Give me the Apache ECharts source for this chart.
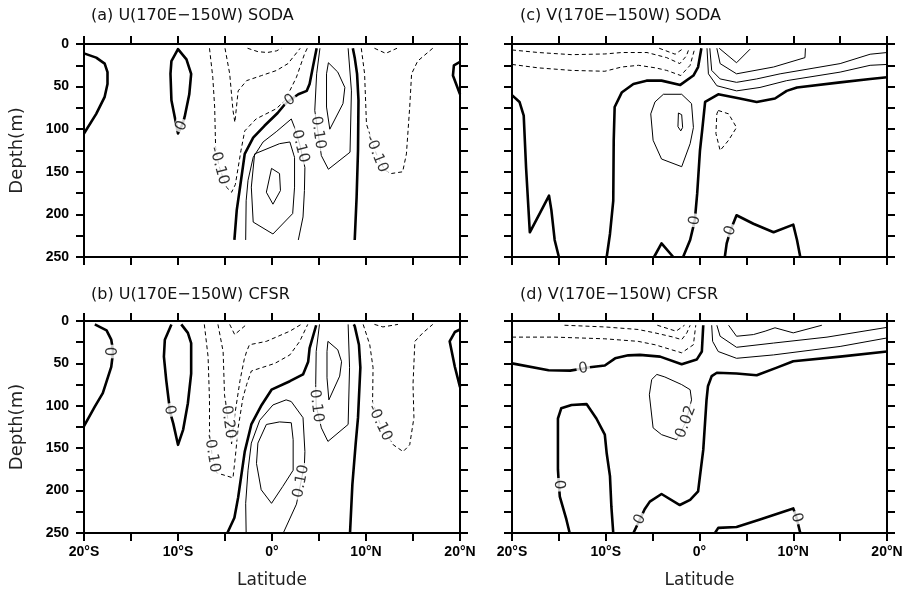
<!DOCTYPE html>
<html>
<head>
<meta charset="utf-8">
<script src="https://cdn.jsdelivr.net/npm/echarts@6/dist/echarts.min.js"></script>
<style>
  html, body { margin: 0; padding: 0; background: #fff; }
  #chart { width: 906px; height: 594px; }
</style>
</head>
<body>
<div id="chart"></div>
<script>
// axis ticks / labels
const latTicks = [-20, -10, 0, 10, 20]
const latLabels = ['20°S', '10°S', '0°', '10°N', '20°N']
const depthLabels = [0, 50, 100, 150, 200, 250]
const titles = ['(a) U(170E\u2212150W) SODA', '(b) U(170E\u2212150W) CFSR',
  '(c) V(170E\u2212150W) SODA', '(d) V(170E\u2212150W) CFSR']

// contour polylines, points are [latitude, depth]
// (a) U SODA
const aZero1 = [[-20, 11], [-18.7, 16], [-17.8, 23], [-17.5, 33], [-17.5, 47], [-17.8, 62], [-18.7, 82], [-20, 105]]
const aZero2 = [[-9.3, 86], [-8.8, 59], [-8.6, 35], [-9.1, 18], [-10, 6], [-10.7, 20], [-10.8, 35], [-10.7, 66], [-10, 105], [-9.6, 96], [-9.3, 86]]
const aZero3 = [[20, 21], [19.35, 25], [19.25, 37], [20, 59]]
const aZero4 = [[-4.0, 230], [-3.75, 195], [-3.45, 172], [-2.9, 129], [-2.0, 110], [-0.8, 96], [0.6, 81], [1.35, 71], [1.9, 66], [2.8, 59], [3.7, 55], [4.0, 47], [4.35, 27], [4.75, 5]]
const aZero5 = [[8.8, 230], [9.0, 180], [9.15, 125], [9.2, 66], [9.05, 35], [8.8, 16], [8.6, 5]]
const aPos1 = [[5.1, 5], [4.75, 35], [4.55, 78], [4.9, 104], [5.25, 131], [6.0, 147], [8.3, 127], [8.45, 55], [8.1, 5]]
const aPos2 = [[6.0, 22], [7.0, 33], [7.75, 51], [7.55, 70], [6.15, 100], [5.8, 74], [5.8, 35], [6.0, 22]]
const aPos3 = [[-2.8, 230], [-2.75, 184], [-2.55, 160], [-2.0, 133], [-0.95, 115], [0.45, 103], [2.05, 88], [2.4, 98], [3.0, 120], [3.5, 145], [3.45, 172], [3.3, 203], [2.8, 230]]
const aPos4 = [[-1.85, 129], [0.8, 117], [1.9, 115], [2.4, 133], [2.4, 168], [2.2, 199], [0.1, 223], [-2.0, 209], [-2.2, 168], [-1.85, 129]]
const aPos5 = [[-0.05, 146], [0.8, 152], [0.9, 172], [0.1, 188], [-0.6, 174], [-0.05, 146]]
const aNeg1 = [[-6.65, 5], [-6.3, 39], [-6.1, 74], [-6.0, 121], [-5.65, 143], [-4.85, 168], [-4.3, 174], [-3.9, 165], [-3.3, 125], [-2.9, 102], [-1.7, 88], [0.45, 76], [1.4, 66], [2.6, 39], [3.45, 12], [3.75, 5]]
const aNeg2 = [[-5.0, 5], [-4.5, 35], [-4.15, 78], [-3.95, 92], [-3.6, 55], [-2.7, 43], [-1.1, 37], [0.5, 31], [1.7, 23], [3.0, 5]]
const aNeg3 = [[-2.6, 5], [-1.5, 9], [-0.5, 10], [0.5, 8], [1.0, 5]]
const aNeg4 = [[9.5, 5], [9.85, 35], [10.05, 94], [11.1, 129], [12.0, 148], [12.7, 152], [13.9, 150], [14.3, 129], [14.65, 74], [14.85, 35], [15.5, 20], [17.1, 5]]
const aNeg5 = [[10.9, 5], [12.1, 11], [13.3, 5]]
const aLabels = [[-9.6, 96, '0'], [1.9, 66, '0'], [3.0, 120, '0.10'], [4.9, 104, '0.10'], [-5.65, 143, '-0.10'], [11.1, 129, '-0.10']]

// (b) U CFSR
const bZero1 = [[-18.85, 4], [-17.6, 11], [-17.1, 22], [-16.9, 36], [-17.1, 54], [-18.0, 85], [-18.85, 101], [-20, 124]]
const bZero2 = [[-10.7, 4], [-11.4, 22], [-11.5, 42], [-11.25, 70], [-10.95, 97], [-10.9, 105], [-10.5, 121], [-10, 146], [-9.45, 128], [-8.95, 97], [-8.6, 62], [-8.6, 26], [-8.95, 14], [-9.65, 4]]
const bZero3 = [[20, 10], [19.45, 13], [18.9, 24], [19.45, 54], [20, 78]]
const bZero4 = [[-4.75, 250], [-4.0, 232], [-3.6, 208], [-2.9, 154], [-2.2, 122], [-1.1, 99], [-0.05, 81], [1.9, 71], [3.3, 63], [3.85, 48], [4.0, 32], [4.7, 5]]
const bZero5 = [[8.3, 250], [8.55, 193], [8.9, 145], [9.15, 114], [9.4, 55], [9.25, 28], [8.8, 6], [8.7, 4]]
const bPos1 = [[5.05, 4], [4.7, 36], [4.65, 75], [4.7, 100], [5.25, 126], [5.95, 142], [8.1, 122], [8.25, 55], [8.1, 4]]
const bPos2 = [[5.95, 24], [7.0, 34], [7.4, 48], [7.2, 65], [6.05, 93], [5.85, 67], [5.85, 36], [5.95, 24]]
const bPos3 = [[-2.75, 250], [-2.8, 215], [-2.55, 176], [-2.2, 144], [-1.3, 117], [0.1, 99], [1.5, 93], [2.05, 95], [3.3, 114], [3.5, 154], [3.45, 169], [3.1, 189], [2.6, 216], [1.2, 250]]
const bPos4 = [[-0.6, 122], [0.8, 119], [2.05, 120], [2.25, 140], [2.25, 176], [1.15, 195], [-0.05, 215], [-1.15, 199], [-1.65, 168], [-1.5, 144], [-0.6, 122]]
const bNeg1 = [[-7.2, 4], [-6.8, 42], [-6.65, 93], [-6.65, 128], [-6.4, 156], [-5.9, 179], [-4.15, 185], [-3.9, 160], [-3.6, 126], [-3.1, 91], [-2.7, 75], [-2.2, 59], [0.3, 50], [1.9, 40], [2.95, 24], [3.8, 4]]
const bNeg2 = [[-5.75, 4], [-5.2, 36], [-5.05, 87], [-4.7, 116], [-4.3, 145], [-3.95, 110], [-3.4, 70], [-2.95, 45], [-2.7, 36], [-2.4, 28], [-0.6, 24], [1.9, 12], [3.1, 4]]
const bNeg3 = [[-4.5, 4], [-3.97, 16], [-2.7, 4]]
const bNeg4 = [[9.7, 4], [10.4, 28], [10.75, 55], [10.7, 95], [11.45, 120], [12.9, 146], [13.95, 154], [14.65, 146], [15.1, 114], [15.0, 75], [15.2, 24], [16.05, 14], [17.1, 4]]
const bNeg5 = [[10.9, 4], [11.8, 7], [13.4, 4]]
const bLabels = [[-16.9, 36, '0'], [-10.9, 105, '0'], [-6.4, 156, '-0.10'], [-4.7, 116, '-0.20'], [4.7, 100, '0.10'], [3.1, 189, '0.10'], [11.45, 120, '-0.10']]

// (c) V SODA
const cZero1 = [[-20, 60], [-19.2, 68], [-18.75, 84], [-18.5, 145], [-18.1, 221], [-17.05, 199], [-16.05, 178], [-15.8, 195], [-15.45, 230], [-15.0, 250]]
const cZero2 = [[-9.9, 250], [-9.55, 223], [-9.2, 184], [-9.15, 113], [-9.05, 74], [-8.3, 57], [-7.05, 47], [-5.65, 43], [-4.05, 43], [-2.05, 48], [-0.65, 37], [-0.15, 27], [0.2, 5]]
const cZero3 = [[-1.75, 250], [-1.0, 230], [-0.5, 207], [-0.25, 176], [0.05, 125], [0.3, 100], [0.6, 68], [2.0, 59], [4.3, 64], [6.1, 68], [8.05, 64], [9.3, 55], [10.4, 51], [15.0, 45], [18.2, 41], [20, 39]]
const cZero4 = [[2.7, 250], [2.9, 234], [3.3, 219], [3.95, 201], [5.75, 211], [7.9, 221], [10.0, 212], [10.4, 230], [10.75, 250]]
const cZero5 = [[-4.85, 250], [-4.05, 234], [-2.8, 250]]
const cPos1 = [[-3.85, 59], [-1.9, 59], [-0.85, 70], [-0.65, 98], [-1.0, 117], [-1.9, 144], [-4.05, 135], [-4.95, 113], [-5.2, 82], [-4.75, 68], [-3.85, 59]]
const cPos2 = [[-2.25, 81], [-1.9, 83], [-1.8, 98], [-2.0, 102], [-2.3, 97], [-2.25, 81]]
const cPos3 = [[0.8, 5], [0.95, 35], [1.85, 49], [3.95, 55], [6.45, 51], [9.3, 43], [15.0, 33], [18.2, 25], [20, 24]]
const cPos4 = [[1.1, 5], [1.3, 31], [2.2, 41], [3.95, 45], [6.1, 41], [8.6, 35], [15.0, 23], [18.2, 12], [20, 10]]
const cPos5 = [[1.85, 5], [2.2, 23], [3.95, 35], [7.9, 27], [11.25, 16], [11.3, 5]]
const cPos6 = [[2.1, 5], [3.95, 22], [5.4, 6]]
const cNeg1 = [[-20, 7], [-17.2, 10], [-13.65, 12.5], [-10.1, 11.7], [-8.3, 10], [-5.6, 10], [-3.5, 16], [-2.1, 23], [-1.4, 14], [-1.1, 5]]
const cNeg2 = [[-20, 24], [-17.2, 28], [-13.65, 31], [-10.1, 32], [-8.3, 27], [-6.5, 25], [-4.7, 28], [-3.5, 31], [-2.0, 37], [-1.0, 25], [-0.5, 5]]
const cNeg3 = [[-4.3, 5], [-2.6, 12], [-1.7, 5]]
const cNeg4 = [[2.0, 78], [3.1, 82], [3.95, 98], [3.1, 113], [2.2, 125], [1.75, 105], [1.85, 82], [2.0, 78]]
const cLabels = [[-0.5, 207, '0'], [3.3, 219, '0']]

// (d) V CFSR
const dZero1 = [[-20, 50], [-16.1, 58], [-13.8, 58.5], [-12.4, 56], [-11.7, 54.5], [-10.1, 52.5], [-9.0, 44], [-7.6, 40.5], [-6.35, 40], [-4.2, 42], [-1.9, 51], [-0.3, 45.5], [0.25, 36], [0.4, 5]]
const dZero2 = [[-7.05, 250], [-6.35, 234], [-5.85, 222], [-5.3, 213], [-4.05, 204], [-2.1, 217], [-1.0, 211], [-0.15, 201], [0.05, 183], [0.4, 152], [0.75, 93], [0.9, 77], [1.3, 65], [1.85, 61], [3.95, 62], [6.1, 64], [8.25, 55], [10.0, 47.5], [15.0, 42], [20, 36]]
const dZero3 = [[-13.85, 250], [-14.2, 234], [-14.9, 207], [-15.0, 193], [-15.1, 175], [-15.1, 115], [-14.75, 103], [-13.65, 99], [-12.05, 98], [-11.0, 115], [-10.1, 134], [-9.9, 156], [-9.55, 183], [-9.4, 219], [-9.2, 250]]
const dZero4 = [[1.65, 250], [2.0, 244], [3.95, 243], [6.45, 234], [10.0, 221], [10.35, 232], [10.75, 250]]
const dPos1 = [[-0.85, 93], [-1.0, 81], [-1.9, 75], [-3.7, 66], [-4.55, 63], [-5.1, 69], [-5.35, 87], [-4.95, 126], [-4.05, 134], [-2.45, 140], [-1.45, 119], [-0.85, 93]]
const dPos2 = [[1.3, 5], [1.4, 24], [2.0, 36], [3.95, 44], [7.9, 40], [15.0, 30], [20, 20]]
const dPos3 = [[1.85, 5], [2.2, 18], [3.95, 31], [7.9, 26], [13.6, 19], [20, 7.5]]
const dPos4 = [[3.1, 5], [3.95, 18], [5.75, 16], [7.0, 12], [8.05, 8], [10.0, 14], [13.05, 5]]
const dNeg1 = [[-14.4, 5], [-10.1, 7], [-6.55, 10], [-4.75, 14], [-2.8, 19], [-1.9, 22], [-1.35, 14], [-1.0, 5]]
const dNeg2 = [[-20, 19], [-15.45, 19], [-10.1, 21], [-6.55, 24], [-4.75, 28], [-1.9, 37.5], [-0.65, 28], [-0.4, 5]]
const dNeg3 = [[-4.5, 5], [-2.5, 12], [-1.6, 5]]
const dLabels = [[-12.4, 56, '0'], [-15.0, 193, '0'], [-6.35, 234, '0'], [10.35, 232, '0'], [-1.45, 119, '0.02']]

const panels = [
  {zero: [aZero1, aZero2, aZero3, aZero4, aZero5], pos: [aPos1, aPos2, aPos3, aPos4, aPos5], neg: [aNeg1, aNeg2, aNeg3, aNeg4, aNeg5], labels: aLabels},
  {zero: [bZero1, bZero2, bZero3, bZero4, bZero5], pos: [bPos1, bPos2, bPos3, bPos4], neg: [bNeg1, bNeg2, bNeg3, bNeg4, bNeg5], labels: bLabels},
  {zero: [cZero1, cZero2, cZero3, cZero4, cZero5], pos: [cPos1, cPos2, cPos3, cPos4, cPos5, cPos6], neg: [cNeg1, cNeg2, cNeg3, cNeg4], labels: cLabels},
  {zero: [dZero1, dZero2, dZero3, dZero4], pos: [dPos1, dPos2, dPos3, dPos4], neg: [dNeg1, dNeg2, dNeg3], labels: dLabels}
]

// layout: a, b on the left, c, d on the right
const boxes = [[84, 44, 376, 213], [84, 321, 376, 212], [512, 44, 375, 213], [512, 321, 375, 212]]
const titlePos = [[91, 8], [91, 287], [520, 8], [520, 287]]

const lineStyles = {
  zero: {color: '#000', width: 2.6, type: 'solid', join: 'round'},
  pos: {color: '#000', width: 1, type: 'solid'},
  neg: {color: '#000', width: 1, type: [4, 3]}
}
const tickFont = {color: '#000', fontWeight: 'bold', fontSize: 14, fontFamily: 'Liberation Sans'}
const axisLine = {onZero: false, lineStyle: {color: '#000', width: 2}}
const axisTick = {length: 8, lineStyle: {color: '#000', width: 2}}

let xAxes = []
let yAxes = []
let series = []
boxes.forEach((b, i) => {
  let bottomRow = i === 1 || i === 3
  let leftCol = i < 2
  let xBase = {gridIndex: i, type: 'value', min: -20, max: 20, interval: 5, splitLine: {show: false}, axisLine: axisLine, axisTick: axisTick}
  xAxes.push(Object.assign({}, xBase, {
    position: 'bottom',
    axisLabel: Object.assign({show: bottomRow, margin: 12, formatter: v => { let k = latTicks.indexOf(v); return k < 0 ? '' : latLabels[k] }}, tickFont),
    name: bottomRow ? 'Latitude' : '',
    nameLocation: 'middle',
    nameGap: 39,
    nameTextStyle: {color: '#222', fontSize: 17, fontFamily: 'DejaVu Sans'}
  }))
  xAxes.push(Object.assign({}, xBase, {position: 'top', axisLabel: {show: false}}))
  let yBase = {gridIndex: i, type: 'value', inverse: true, min: 0, max: 250, interval: 25, splitLine: {show: false}, axisLine: axisLine, axisTick: axisTick}
  yAxes.push(Object.assign({}, yBase, {
    position: 'left',
    axisLabel: Object.assign({show: leftCol, margin: 15, formatter: v => depthLabels.includes(v) ? String(v) : ''}, tickFont),
    name: leftCol ? 'Depth(m)' : '',
    nameLocation: 'middle',
    nameGap: 58,
    nameTextStyle: {color: '#222', fontSize: 18, fontFamily: 'DejaVu Sans'}
  }))
  yAxes.push(Object.assign({}, yBase, {position: 'right', axisLabel: {show: false}}))

  let p = panels[i]
  ;['zero', 'pos', 'neg'].forEach(kind => {
    p[kind].forEach(line => {
      series.push({
        type: 'line', xAxisIndex: 2 * i, yAxisIndex: 2 * i, data: line,
        symbol: 'none', showSymbol: false, silent: true, z: 3,
        lineStyle: lineStyles[kind]
      })
    })
  })
})

let myChart = echarts.init(document.getElementById('chart'))
myChart.setOption({
  animation: false,
  backgroundColor: '#fff',
  title: titles.map((t, i) => ({
    text: t, left: titlePos[i][0], top: titlePos[i][1], padding: 0,
    textStyle: {color: '#111', fontSize: 16, fontWeight: 'normal', fontFamily: 'DejaVu Sans'}
  })),
  grid: boxes.map(b => ({left: b[0], top: b[1], width: b[2], height: b[3], containLabel: false})),
  xAxis: xAxes,
  yAxis: yAxes,
  series: series
})

// contour labels, rotated along the local direction of the line they sit on
panels.forEach((p, i) => {
  let finder = {xAxisIndex: 2 * i, yAxisIndex: 2 * i}
  let lines = [].concat(p.zero, p.pos, p.neg).map(l => l.map(pt => myChart.convertToPixel(finder, pt)))
  let data = p.labels.map(lb => {
    let q = myChart.convertToPixel(finder, [lb[0], lb[1]])
    let best = null
    let bestD = Infinity
    lines.forEach(pts => {
      pts.forEach((pt, j) => {
        let d = Math.hypot(pt[0] - q[0], pt[1] - q[1])
        if (d < bestD) { bestD = d; best = [pts, j] }
      })
    })
    let pts = best[0]
    let j = best[1]
    let a = pts[Math.max(j - 1, 0)]
    let c = pts[Math.min(j + 1, pts.length - 1)]
    let ang = Math.atan2(-(c[1] - a[1]), c[0] - a[0]) * 180 / Math.PI
    if (ang > 90) ang -= 180
    if (ang <= -90) ang += 180
    return {value: [lb[0], lb[1]], label: {formatter: lb[2], rotate: ang}}
  })
  series.push({
    type: 'scatter', xAxisIndex: 2 * i, yAxisIndex: 2 * i, data: data,
    symbolSize: 1, itemStyle: {color: 'rgba(0,0,0,0)'}, silent: true, z: 10,
    label: {show: true, position: 'inside', color: '#000', fontSize: 15, fontFamily: 'DejaVu Sans', backgroundColor: '#fff', padding: [0, 2]}
  })
})
myChart.setOption({series: series})
</script>
</body>
</html>
